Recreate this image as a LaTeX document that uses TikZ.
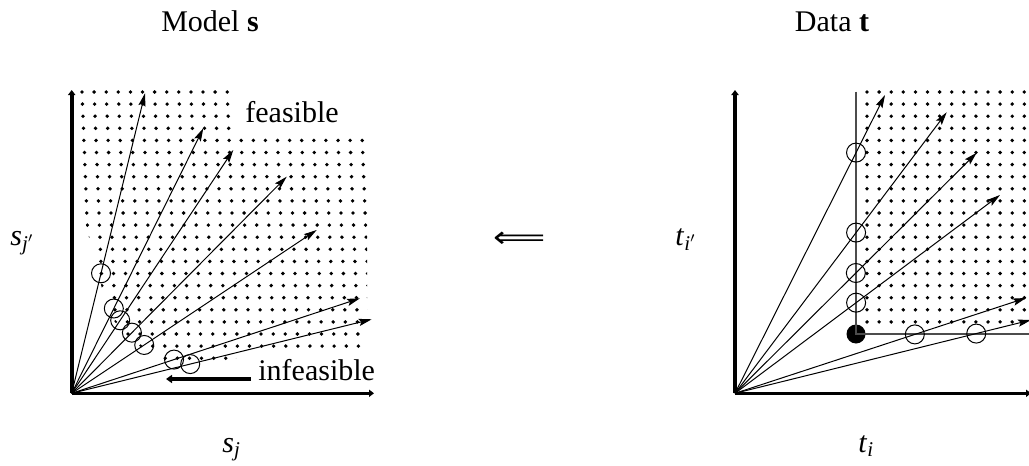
\documentclass[tikz,border=0pt]{standalone}
\usepackage{fontspec}
\setmainfont{Liberation Serif}
\newfontfamily\symfam{DejaVu Sans}
\usetikzlibrary{arrows.meta}
\begin{document}
\begin{tikzpicture}[x=0.5pt,y=-0.5pt,
  axis/.style={line width=1.8pt,-{Triangle[length=2.5pt,width=3.6pt]}},
  ray/.style={line width=0.5pt,-{Stealth[length=6.5pt,width=3.6pt,inset=1.2pt]}},
  ring/.style={circle,draw,line width=0.5pt,minimum size=9.5pt,inner sep=0pt},
  blob/.style={circle,fill,minimum size=9.5pt,inner sep=0pt},
  lab/.style={font=\fontsize{15}{18}\selectfont,inner sep=0pt},
  guide/.style={line width=0.55pt,draw=black!70},
  pointer/.style={line width=2pt,-{Triangle[length=3pt,width=4pt]}},
  dot/.style={fill=black}]
\useasboundingbox (0,0) rectangle (1029,466);

% ---------------- titles and labels ----------------
\node[lab,anchor=base] (tm) at (210,31.7) {Model \textbf{s}};
\node[lab,anchor=base] (td) at (832,31.7) {Data \textbf{t}};
\node[lab,anchor=base west] (ly) at (10,245) {\textit{s}\textsubscript{\textit{j}$'$}};
\node[lab,anchor=base west] (lx) at (222,452) {\textit{s}\textsubscript{\textit{j}}};
\node[lab,anchor=base west] (ry) at (675,245) {\textit{t}\textsubscript{\textit{i}$'$}};
\node[lab,anchor=base west] (rx) at (858,452) {\textit{t}\textsubscript{\textit{i}}};
\node[lab,font=\fontsize{14}{18}\symfam] (imp) at (520,240) {\scalebox{1.3}[1.05]{⟸}};
\node[lab,anchor=base west] (feas) at (245,122) {feasible};
\node[lab,anchor=base west] (infeas) at (258,380) {infeasible};

% ---------------- left plot ----------------
\begin{scope}
  \clip (77,86) -- (232,86) -- (232,134) -- (367,134) -- (367,351) -- (236,351)
        -- (236,364) -- (167,364) -- (147,352) -- (132,340) -- (120,328)
        -- (110,316) -- (104,296) -- (96,266) -- (86,225) -- (77,86) -- cycle;
  \foreach \j in {0,...,22}{
    \foreach \i in {0,...,24}{
      \fill[dot] ({82+12.1*\i+0.04*12.1*\j},{92+12.1*\j}) circle (0.95pt);
    }
  }
\end{scope}

\coordinate (LO) at (71.7,393.3);
\coordinate (LY) at (71.7,90);
\coordinate (LX) at (374,393.3);
\coordinate (LT1) at (145,93.3);
\coordinate (LT2) at (203.3,128.3);
\coordinate (LT3) at (233.3,150);
\coordinate (LT4) at (286.7,176.7);
\coordinate (LT5) at (316.7,230);
\coordinate (LT6) at (360,298.3);
\coordinate (LT7) at (371.7,319.3);

\draw[ray] (LO) -- (LT1) node[ring,pos=0.40] (lc1) {};
\draw[ray] (LO) -- (LT2) node[ring,pos=0.32] (lc2) {};
\draw[ray] (LO) -- (LT3) node[ring,pos=0.30] (lc3) {};
\draw[ray] (LO) -- (LT4) node[ring,pos=0.28] (lc4) {};
\draw[ray] (LO) -- (LT5) node[ring,pos=0.296] (lc5) {};
\draw[ray] (LO) -- (LT6) node[ring,pos=0.355] (lc6) {};
\draw[ray] (LO) -- (LT7) node[ring,pos=0.395] (lc7) {};

\draw[axis] (LO) -- (LY);
\draw[axis] (LO) -- (LX);

\coordinate (PA) at (251,379);
\coordinate (PB) at (166,379);
\draw[pointer] (PA) -- (PB);

% ---------------- right plot ----------------
\foreach \j in {0,...,19}{
  \foreach \i in {0,...,13}{
    \fill[dot] ({867+12.1*\i},{92+12.1*\j}) circle (0.95pt);
  }
}

\coordinate (RO) at (735,393.3);
\coordinate (RY) at (735,90);
\coordinate (RX) at (1031,393.3);
\coordinate (GT) at (856,91.7);
\coordinate (GR) at (1031,334);
\node[blob] (P) at (856,334) {};
\draw[guide] (GT) -- (P.center) -- (GR);

\coordinate (RT1) at (885,95);
\coordinate (RT2) at (946.7,112.3);
\coordinate (RT3) at (976.7,152.7);
\coordinate (RT4) at (1000,195);
\coordinate (RT5) at (1026,298);
\coordinate (RT6) at (1031,320);

\draw[ray] (RO) -- (RT1) node[ring,pos=0.807] (rc1) {};
\draw[ray] (RO) -- (RT2) node[ring,pos=0.572] (rc2) {};
\draw[ray] (RO) -- (RT3) node[ring,pos=0.50] (rc3) {};
\draw[ray] (RO) -- (RT4) node[ring,pos=0.457] (rc4) {};
\draw[ray] (RO) -- (RT5) node[ring,pos=0.618] (rc5) {};
\draw[ray] (RO) -- (RT6) node[ring,pos=0.815] (rc6) {};

\draw[axis] (RO) -- (RY);
\draw[axis] (RO) -- (RX);
\end{tikzpicture}
\end{document}
